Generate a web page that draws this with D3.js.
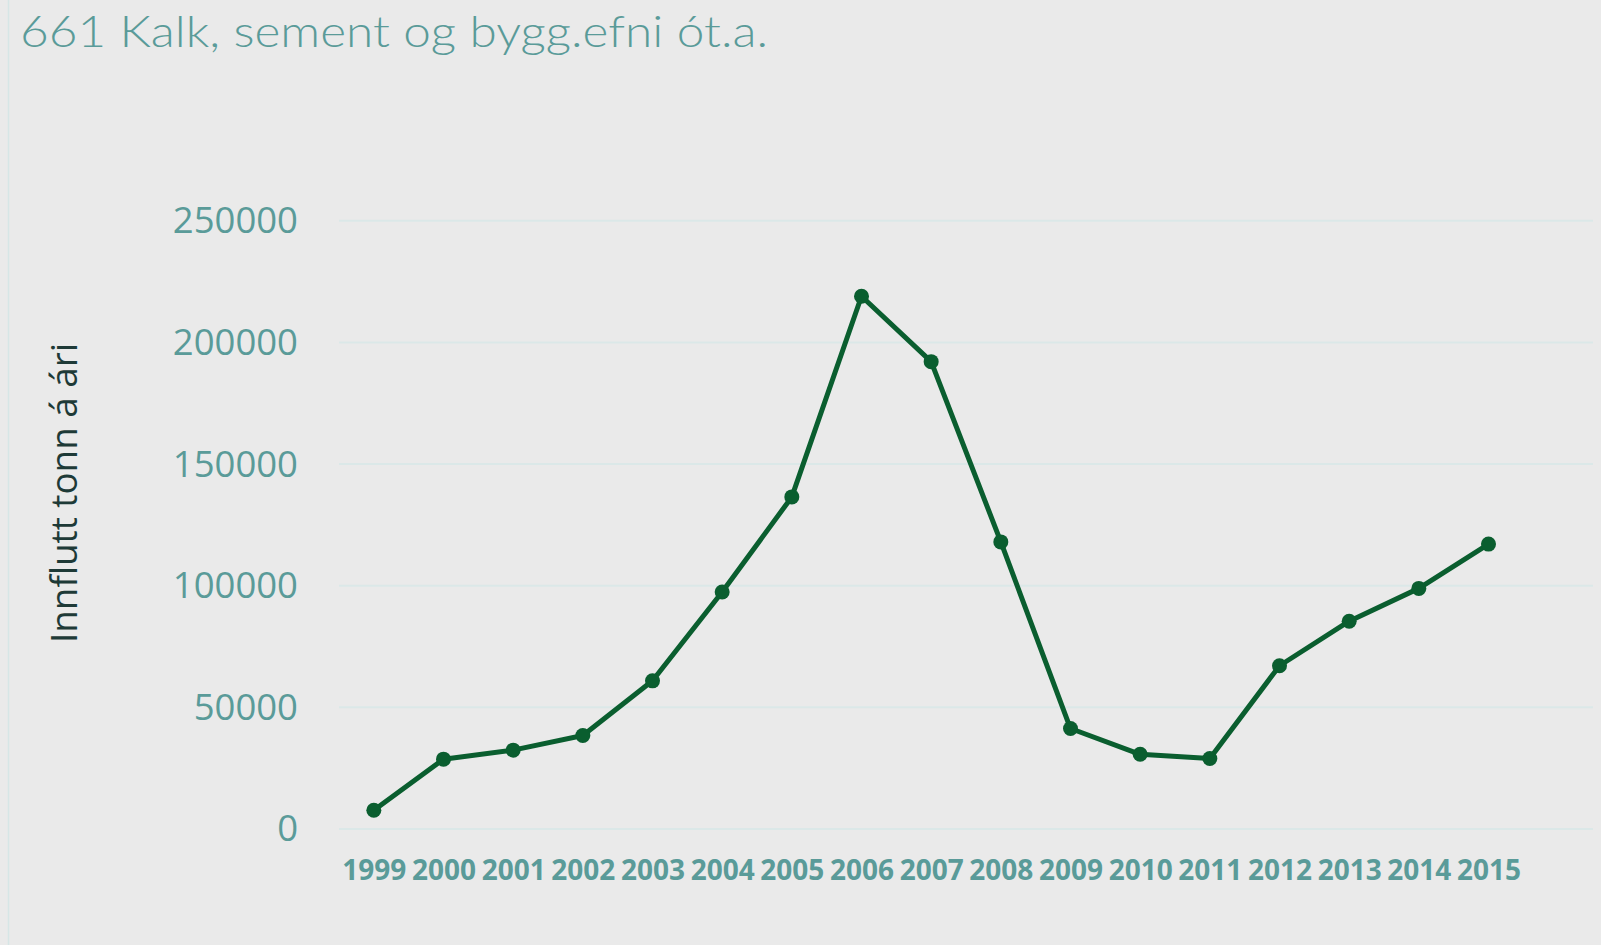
<!DOCTYPE html>
<html>
<head>
<meta charset="utf-8">
<script src="https://cdn.jsdelivr.net/npm/d3@7"></script>
<style>
  html, body { margin: 0; padding: 0; background: #eaeaea; }
  svg { display: block; }
</style>
</head>
<body>
<div id="chart"></div>
<script>
const title = "661 Kalk, sement og bygg.efni ót.a.";
const yTitle = "Innflutt tonn á ári";
const years = [1999, 2000, 2001, 2002, 2003, 2004, 2005, 2006, 2007, 2008, 2009, 2010, 2011, 2012, 2013, 2014, 2015];
const tonnes = [7500, 28500, 32200, 38200, 60700, 97200, 136300, 218800, 191900, 117800, 41100, 30500, 28800, 66900, 85200, 98700, 116900];
const yTicks = [0, 50000, 100000, 150000, 200000, 250000];

const width = 1601, height = 945;
const teal = "#5a9b99";
const green = "#0a5e2f";

const svg = d3.select("#chart")
  .append("svg")
  .attr("width", width)
  .attr("height", height);

svg.append("rect")
  .attr("width", width)
  .attr("height", height)
  .attr("fill", "#eaeaea");

// thin border line on the left
svg.append("line")
  .attr("x1", 8.5).attr("x2", 8.5)
  .attr("y1", 0).attr("y2", height)
  .attr("stroke", "#d6e6e6")
  .attr("stroke-width", 1.5);

// x has one spare slot on the right, like the original
const x = d3.scaleLinear()
  .domain([years[0] - 0.5, years[years.length - 1] + 1.5])
  .range([339, 1593]);

const y = d3.scaleLinear()
  .domain([0, 250000])
  .range([828.5, 220.3]);

// gridlines + y labels
const yAxis = svg.append("g")
  .attr("transform", "translate(339,0)")
  .call(d3.axisLeft(y)
    .tickValues(yTicks)
    .tickSize(-(1593 - 339))
    .tickPadding(41)
    .tickFormat(d3.format("d")));

yAxis.select(".domain").remove();
yAxis.selectAll(".tick line")
  .attr("stroke", "#dbe8e8")
  .attr("stroke-width", 2);
yAxis.selectAll(".tick text")
  .attr("fill", teal)
  .attr("font-family", "'Open Sans', sans-serif")
  .attr("font-size", 36.5)
  .attr("dy", "0.34em");

// x labels
const xAxis = svg.append("g")
  .attr("transform", "translate(0,870)")
  .call(d3.axisBottom(x)
    .tickValues(years)
    .tickSize(0)
    .tickPadding(0)
    .tickFormat(d3.format("d")));

xAxis.select(".domain").remove();
xAxis.selectAll(".tick text")
  .attr("fill", teal)
  .attr("font-family", "'Open Sans', sans-serif")
  .attr("font-weight", "bold")
  .attr("font-size", 28)
  .attr("dy", "0.36em");

const line = d3.line()
  .x((d, i) => x(years[i]))
  .y(d => y(d));

svg.append("path")
  .datum(tonnes)
  .attr("d", line)
  .attr("fill", "none")
  .attr("stroke", green)
  .attr("stroke-width", 5)
  .attr("stroke-linejoin", "round");

svg.selectAll("circle.pt")
  .data(tonnes)
  .enter()
  .append("circle")
  .attr("class", "pt")
  .attr("cx", (d, i) => x(years[i]))
  .attr("cy", d => y(d))
  .attr("r", 7.5)
  .attr("fill", green);

// chart title
svg.append("text")
  .attr("x", 20)
  .attr("y", 46.5)
  .attr("fill", teal)
  .attr("font-family", "Lato, 'Open Sans', sans-serif")
  .attr("font-weight", 300)
  .attr("font-size", 43)
  .attr("textLength", 748)
  .attr("lengthAdjust", "spacingAndGlyphs")
  .text(title);

// y axis title
svg.append("text")
  .attr("transform", "translate(77,493) rotate(-90)")
  .attr("text-anchor", "middle")
  .attr("fill", "#1e3a37")
  .attr("font-family", "'Open Sans', sans-serif")
  .attr("font-size", 36)
  .attr("textLength", 300)
  .attr("lengthAdjust", "spacingAndGlyphs")
  .text(yTitle);
</script>
</body>
</html>
